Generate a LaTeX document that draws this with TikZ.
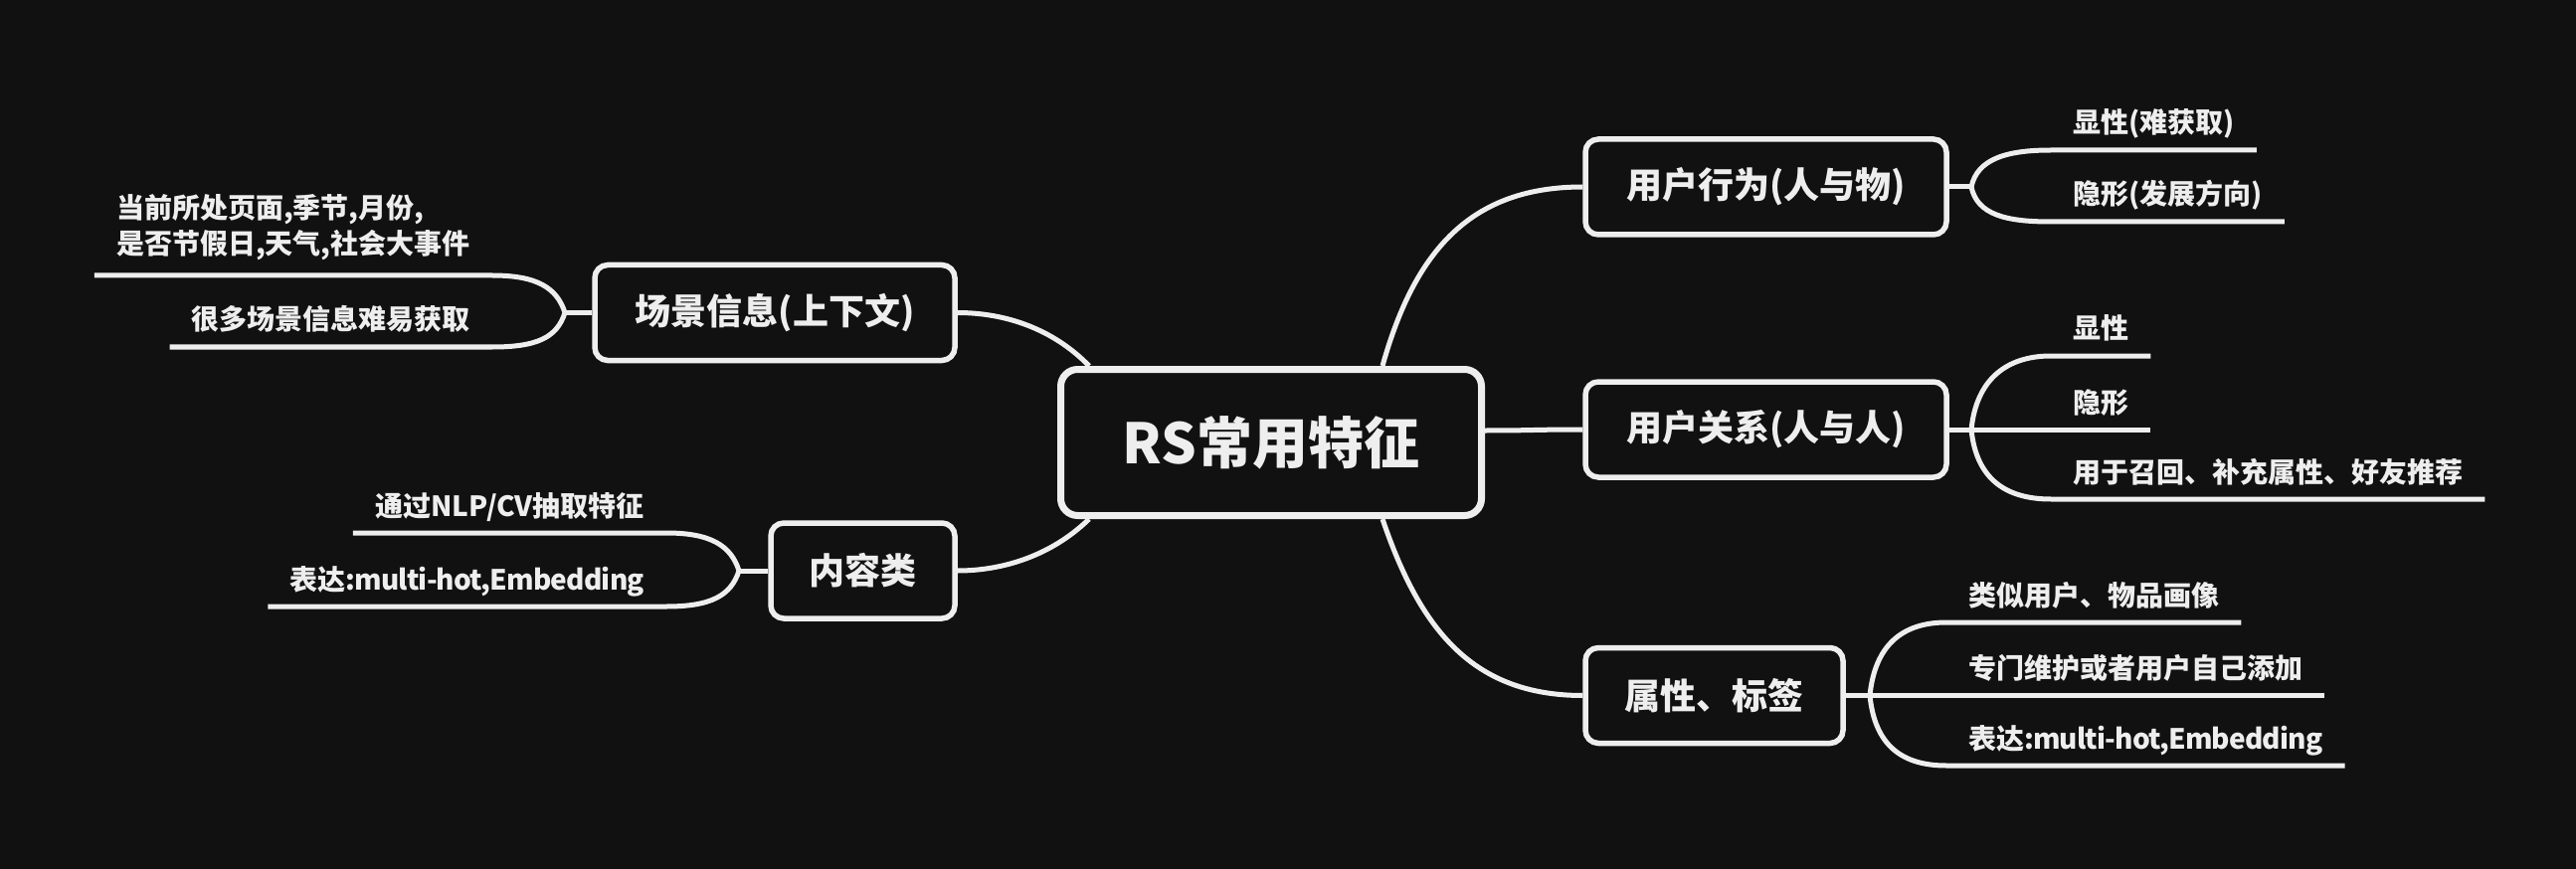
\documentclass[tikz,border=0pt]{standalone}
\usepackage{fontspec}
\setmainfont{Noto Sans CJK SC}
\newcommand{\lt}[1]{{\addfontfeature{LetterSpace=-3.0}#1}}
\definecolor{bg}{HTML}{111111}
\definecolor{fg}{HTML}{EEEEEE}
\begin{document}
\begin{tikzpicture}[x=1pt,y=1pt,
  conn/.style={draw=fg, line width=5pt},
  rootbox/.style={draw=fg, fill=bg, line width=7pt, rounded corners=17pt, minimum width=423pt, minimum height=147pt, text=fg, font=\fontsize{56}{60}\selectfont\bfseries, inner sep=0pt},
  topic/.style={draw=fg, fill=bg, line width=5.5pt, rounded corners=13pt, minimum height=96pt, text=fg, font=\fontsize{36}{40}\selectfont\bfseries, inner sep=0pt},
  leaf/.style={text=fg, font=\fontsize{28}{36}\selectfont\bfseries, inner xsep=22pt, inner ysep=0pt},
]
\fill[bg] (0,0) rectangle (2590,-874);
\useasboundingbox (0,0) rectangle (2590,-874);

% main nodes
\node[rootbox] (c) at (1278,-445) {RS常用特征};
\node[topic, minimum width=363pt] (b1) at (1775.5,-188) {用户行为(人与物)};
\node[topic, minimum width=363pt] (b2) at (1775.5,-432) {用户关系(人与人)};
\node[topic, minimum width=259pt] (b3) at (1723.5,-699.5) {属性、标签};
\node[topic, minimum width=362pt] (b4) at (779,-314.5) {场景信息(上下文)};
\node[topic, minimum width=185pt] (b5) at (867.5,-574) {内容类};

% forks and junctions
\coordinate (f1) at (1982,-188);
\coordinate (f2) at (1982,-432);
\coordinate (f3) at (1880,-699.5);
\coordinate (f4) at (568,-314.5);
\coordinate (f5) at (743,-574);
\coordinate (j11) at (2062,-151);
\coordinate (j12) at (2062,-223);
\coordinate (j21) at (2062,-358);
\coordinate (j22) at (2062,-432);
\coordinate (j23) at (2062,-502);
\coordinate (j31) at (1957,-626);
\coordinate (j32) at (1957,-699.5);
\coordinate (j33) at (1957,-770);
\coordinate (j41) at (495,-277);
\coordinate (j42) at (495,-349);
\coordinate (j51) at (670,-536);
\coordinate (j52) at (670,-610);

% leaves
\node[leaf, anchor=base west] (l11) at ([yshift=17pt]j11) {显性(难获取)};
\node[leaf, anchor=base west] (l12) at ([yshift=17pt]j12) {隐形(发展方向)};
\node[leaf, anchor=base west] (l21) at ([yshift=17pt]j21) {显性};
\node[leaf, anchor=base west] (l22) at ([yshift=17pt]j22) {隐形};
\node[leaf, anchor=base west] (l23) at ([yshift=17pt]j23) {用于召回、补充属性、好友推荐};
\node[leaf, anchor=base west] (l31) at ([yshift=17pt]j31) {类似用户、物品画像};
\node[leaf, anchor=base west] (l32) at ([yshift=17pt]j32) {专门维护或者用户自己添加};
\node[leaf, anchor=base west] (l33) at ([yshift=17pt]j33) {表达\lt{:multi-hot,Embedding}};
\node[leaf, anchor=south east, align=left] (l41) at ([yshift=15pt]j41) {当前所处页面,季节,月份,\\是否节假日,天气,社会大事件};
\node[leaf, anchor=base east] (l42) at ([yshift=17pt]j42) {很多场景信息难易获取};
\node[leaf, anchor=base east] (l51) at ([yshift=17pt]j51) {通过NLP/CV抽取特征};
\node[leaf, anchor=base east] (l52) at ([yshift=17pt]j52) {表达\lt{:multi-hot,Embedding}};

% root connectors
\draw[conn] ([xshift=-103pt]c.north east) .. controls +(33,118) and +(-111,0) .. (b1.west);
\draw[conn] ([yshift=12pt]c.east) .. controls +(50,0) and +(-50,0) .. (b2.west);
\draw[conn] ([xshift=-103pt]c.south east) .. controls +(38,-112) and +(-110,0) .. (b3.west);
\draw[conn] ([xshift=32pt]c.north west) .. controls +(-37,38) and +(47,0) .. (b4.east);
\draw[conn] ([xshift=32pt]c.south west) .. controls +(-37,-36) and +(47,0) .. (b5.east);

% group 1
\draw[conn] (b1.east) -- (f1);
\draw[conn] (f1) .. controls +(6,28) and +(-45,0) .. (j11) -- (j11 -| l11.east);
\draw[conn] (f1) .. controls +(6,-28) and +(-45,0) .. (j12) -- (j12 -| l12.east);
% group 2
\draw[conn] (b2.east) -- (f2) -- (j22 -| l22.east);
\draw[conn] (f2) .. controls +(5,50) and +(-45,0) .. (j21) -- (j21 -| l21.east);
\draw[conn] (f2) .. controls +(5,-50) and +(-45,0) .. (j23) -- (j23 -| l23.east);
% group 3
\draw[conn] (b3.east) -- (f3) -- (j32 -| l32.east);
\draw[conn] (f3) .. controls +(5,50) and +(-45,0) .. (j31) -- (j31 -| l31.east);
\draw[conn] (f3) .. controls +(5,-50) and +(-45,0) .. (j33) -- (j33 -| l33.east);
% group 4
\draw[conn] (b4.west) -- (f4);
\draw[conn] (f4) .. controls +(-8,25) and +(45,0) .. (j41) -- (j41 -| l41.west);
\draw[conn] (f4) .. controls +(-8,-25) and +(45,0) .. (j42) -- (j42 -| l42.west);
% group 5
\draw[conn] (b5.west) -- (f5);
\draw[conn] (f5) .. controls +(-8,25) and +(45,0) .. (j51) -- (j51 -| l51.west);
\draw[conn] (f5) .. controls +(-8,-25) and +(45,0) .. (j52) -- (j52 -| l52.west);
\end{tikzpicture}
\end{document}
